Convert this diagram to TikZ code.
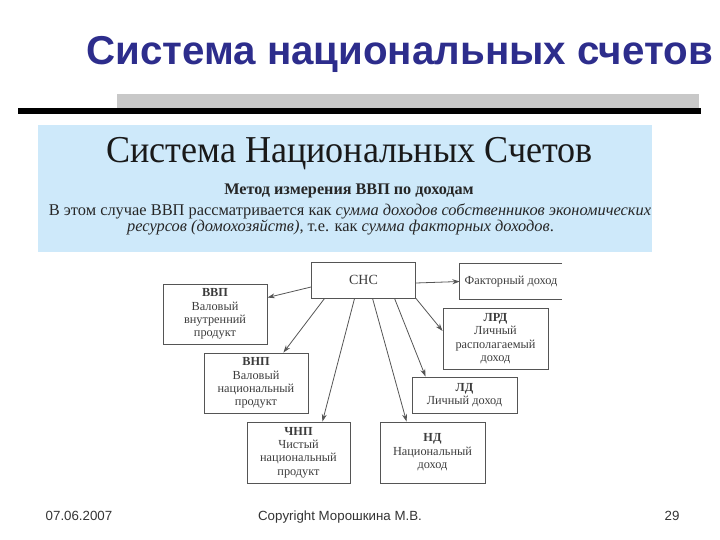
\documentclass[tikz,border=0pt]{standalone}
\usepackage{fontspec}
\setmainfont{Liberation Serif}
\newfontfamily\arialf{Liberation Sans}
\usetikzlibrary{arrows.meta}
\definecolor{titleblue}{RGB}{45,45,140}
\definecolor{panelblue}{RGB}{206,233,250}
\definecolor{barGray}{RGB}{200,200,200}
\definecolor{boxline}{RGB}{85,85,85}
\definecolor{boxtext}{RGB}{60,60,60}
\tikzset{
  box/.style={draw=boxline, line width=0.9pt, text=boxtext, align=center,
    inner sep=0pt, font=\fontsize{12.3}{13.4}\selectfont},
  conn/.style={draw=boxline, line width=0.8pt, -{Stealth[length=7.5pt,width=5pt]}},
  foot/.style={font=\arialf\fontsize{13.3}{13}\selectfont, text=black!80, anchor=base}
}
\begin{document}
\begin{tikzpicture}[x=1pt,y=-1pt]
\useasboundingbox (0,0) rectangle (720,540);
% header
\node[anchor=base, text=titleblue, font=\arialf\bfseries\fontsize{40.3}{40}\selectfont, inner sep=0pt] (title) at (399.5,65) {Система национальных счетов};
\fill[barGray] (117,94) rectangle (699,108);
\fill[black] (18,108) rectangle (701,114);
% panel
\fill[panelblue] (38,125) rectangle (652,252);
\node[anchor=base, inner sep=0pt, xscale=0.95, font=\fontsize{38}{38}\selectfont, text=black!90] (ptitle) at (349.5,163) {Система Национальных Счетов};
\node[anchor=base, inner sep=0pt, font=\bfseries\fontsize{16.2}{16}\selectfont, text=black!85] (psub) at (349,195) {Метод измерения ВВП по доходам};
\node[anchor=base, inner sep=0pt, font=\fontsize{16.4}{16}\selectfont, text=black!85] (pl1) at (350,215) {В этом случае ВВП рассматривается как \textit{сумма доходов собственников экономических}};
\node[anchor=base, inner sep=0pt, font=\fontsize{16.4}{16}\selectfont, text=black!85] (pl2) at (340.5,232) {\textit{ресурсов (домохозяйств)}, т.е. как \textit{сумма факторных доходов}.};
% diagram
\node[box, minimum width=104pt, minimum height=36pt, font=\fontsize{14}{14}\selectfont] (snc) at (363.5,280) {СНС};
\node[text=boxtext, inner sep=0pt, minimum width=102pt, minimum height=35pt, font=\fontsize{12.3}{13}\selectfont] (fact) at (511,281.5) {Факторный доход};
\draw[boxline, line width=0.9pt] (fact.north east) -- (fact.north west) -- (fact.south west) -- (fact.south east);
\node[box, minimum width=104pt, minimum height=60pt] (vvp) at (215,314) {\textbf{ВВП}\\Валовый\\внутренний\\продукт};
\node[box, minimum width=105pt, minimum height=61pt] (lrd) at (495.5,338.5) {\textbf{ЛРД}\\Личный\\располагаемый\\доход};
\node[box, minimum width=104pt, minimum height=60pt] (vnp) at (256,383) {\textbf{ВНП}\\Валовый\\национальный\\продукт};
\node[box, minimum width=105pt, minimum height=36pt] (ld) at (464.5,395) {\textbf{ЛД}\\Личный доход};
\node[box, minimum width=103pt, minimum height=61pt] (chnp) at (298.5,452.5) {\textbf{ЧНП}\\Чистый\\национальный\\продукт};
\node[box, minimum width=105pt, minimum height=61pt] (nd) at (432.5,452.5) {\textbf{НД}\\Национальный\\доход};
% connectors
\draw[conn] ([yshift=-3pt]snc.east) -- (fact.west);
\draw[conn] ([yshift=-7pt]snc.west) -- ([yshift=-14pt]vvp.north east);
\draw[conn] ([xshift=13.5pt]snc.south west) -- ([xshift=-25pt]vnp.north east);
\draw[conn] ([xshift=43.5pt]snc.south west) -- ([xshift=-28pt]chnp.north east);
\draw[conn] ([xshift=61.5pt]snc.south west) -- ([xshift=27pt]nd.north west);
\draw[conn] ([xshift=83.5pt]snc.south west) -- ([xshift=14pt]ld.north west);
\draw[conn] (snc.south east) -- ([yshift=7.5pt]lrd.west);
% footer
\node[foot] (date) at (79,520) {07.06.2007};
\node[foot] (copy) at (340,520) {Copyright Морошкина М.В.};
\node[foot] (page) at (672,520) {29};
\end{tikzpicture}
\end{document}
